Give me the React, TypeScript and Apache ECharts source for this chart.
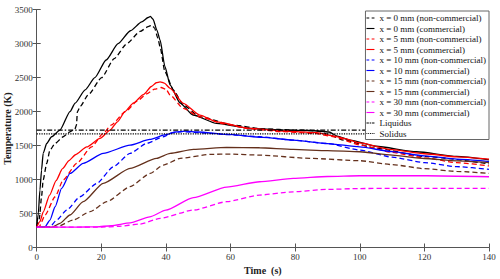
import React, { useEffect, useRef } from "react";
import * as echarts from "echarts";

const FONT = "Liberation Serif, Times New Roman, serif";

const names = [
  "x = 0 mm (non-commercial)",
  "x = 0 mm (commercial)",
  "x = 5 mm (non-commercial)",
  "x = 5 mm (commercial)",
  "x = 10 mm (non-commercial)",
  "x = 10 mm (commercial)",
  "x = 15 mm (non-commercial)",
  "x = 15 mm (commercial)",
  "x = 30 mm (non-commercial)",
  "x = 30 mm (commercial)",
  "Liquidus",
  "Solidus",
];

const x0Non = [[0,300],[0.8,420],[1.5,747],[2,993],[3.1,1238],[4.1,1434],[5.7,1532],[8.2,1630],[10.3,1703],[11.8,1740],[12.3,1800],[12.6,2000],[13.5,2080],[16,2250],[20.1,2500],[24,2780],[27.9,3000],[32,3180],[34.5,3250],[35.6,3272],[36.5,3230],[37.5,3080],[38.2,2950],[39.7,2585],[42.3,2316],[45.4,2096],[50.5,1924],[60.9,1801],[70,1745],[80,1728],[87,1715],[90,1670],[95,1581],[105,1460],[120,1340],[140,1230]];
const x0Com = [[0,300],[0.5,503],[1,845],[1.5,1140],[2,1385],[3.1,1532],[4.6,1630],[7.2,1728],[10.3,2000],[11.9,2125],[15,2320],[18,2500],[21.5,2760],[25.2,3000],[29,3190],[32.5,3320],[34.5,3385],[35.2,3400],[36,3360],[37.2,3200],[38.2,3050],[39.7,2660],[41.3,2390],[44.4,2125],[48.4,1950],[55.7,1826],[66,1753],[76,1728],[85,1722],[90.5,1700],[93,1640],[97,1580],[105,1490],[117.6,1409],[130,1340],[140,1290]];
const x5Non = [[0,300],[0.8,310],[2.6,478],[5.7,747],[8.2,993],[12.4,1238],[17,1482],[20.6,1679],[23,1800],[27.5,2000],[31,2150],[34,2260],[36.5,2330],[38.5,2355],[40,2330],[41.3,2243],[45.4,2047],[50.5,1924],[58,1820],[66,1745],[76,1705],[86,1680],[92,1630],[100,1510],[110,1400],[120,1320],[130,1250],[140,1200]];
const x5Com = [[0,300],[1,380],[2,520],[4,770],[6,985],[8,1160],[10,1280],[12,1365],[15.5,1480],[19.6,1606],[22.7,1728],[25,1850],[27.3,2000],[30,2130],[33,2250],[35.5,2370],[37,2425],[38.2,2438],[39.5,2420],[41.3,2341],[45.4,2121],[50.5,1949],[55.7,1850],[66,1753],[76,1715],[86.7,1690],[92,1640],[95,1606],[100,1540],[110,1440],[120,1380],[130,1335],[140,1300]];
const x10Non = [[0,300],[4.1,305],[6.2,404],[9.3,551],[13.4,747],[18.6,944],[23.7,1188],[28.9,1385],[34,1532],[39.2,1630],[42,1690],[45,1705],[50,1690],[60,1660],[69,1630],[79.4,1580],[89.8,1532],[100,1434],[110,1330],[120,1250],[130,1190],[140,1150]];
const x10Com = [[0,300],[2.6,305],[4.1,404],[5.7,600],[7.7,870],[10.3,1090],[14.4,1238],[20.6,1385],[28.9,1507],[35,1590],[40,1660],[43,1700],[46,1712],[50,1700],[58.8,1664],[70,1620],[79.4,1581],[90,1530],[100,1482],[110,1410],[120,1350],[130,1300],[140,1265]];
const x15Non = [[0,300],[6,300],[11.3,404],[16.5,527],[21.7,674],[28.9,895],[35.1,1090],[39.2,1213],[44.4,1312],[53.7,1371],[60,1375],[69,1360],[84.6,1312],[100,1277],[110,1220],[120,1160],[130,1120],[140,1091]];
const x15Com = [[0,300],[4.8,300],[7.2,356],[10.3,478],[14.4,674],[20.6,944],[28.9,1164],[37.1,1312],[41.3,1385],[48.5,1444],[58.8,1473],[69,1468],[79.4,1444],[90,1425],[100,1409],[110,1360],[120,1310],[130,1275],[140,1250]];
const x30Non = [[0,300],[20,300],[25,310],[32,345],[38.2,429],[48.5,551],[58.8,674],[69,772],[79.4,820],[89.8,855],[100,868],[110.4,870],[140,870]];
const x30Com = [[0,300],[10,300],[15,302],[18.6,305],[23,320],[28.9,362],[35,450],[40,550],[48.5,735],[58.8,890],[69,968],[79.4,1017],[90,1045],[100,1056],[120.7,1056],[140,1041]];
const liquidus = [[0,1728],[140,1728]];
const solidus = [[0,1672],[140,1672]];

const xTicks = { min: 0, max: 140, interval: 20 };
const yTicks = { min: 0, max: 3500, interval: 500 };

const BLACK = "#000000";
const RED = "#ff0000";
const BLUE = "#0000ff";
const BROWN = "#64301c";
const MAGENTA = "#ff00ff";

const ICON_SOLID = "path://M0,0h10v1.4h-10z";
const ICON_DASH = "path://M0,0h3.5v1.4h-3.5zM6.5,0h3.5v1.4h-3.5z";
const ICON_DASHDOT = "path://M0,0h3v1.2h-3zM4,0h2v1.2h-2zM7,0h3v1.2h-3z";
const ICON_DOT = "path://M0,0h1v1h-1zM2,0h1v1h-1zM4,0h1v1h-1zM6,0h1v1h-1zM8,0h1v1h-1z";

export default function App() {
  const ref = useRef<HTMLDivElement>(null);
  useEffect(() => {
    const chart = echarts.init(ref.current!, null, { renderer: "svg" });
    const mk = (name: string, data: number[][], color: string, type: any, width = 1.3) => ({
      name,
      type: "line",
      data,
      showSymbol: false,
      symbol: "none",
      smooth: 0.2,
      smoothMonotone: "x",
      lineStyle: { color, width, type },
      itemStyle: { color },
    });
    const dash = [5, 3];
    const axisCommon = {
      axisLine: { show: true, lineStyle: { color: "#555", width: 1 } },
      axisTick: { show: true, inside: true, length: 4, lineStyle: { color: "#555" } },
      splitLine: { show: false },
    };
    const fmt = (v: number) => String(v);
    const icons = [ICON_DASH, ICON_SOLID, ICON_DASH, ICON_SOLID, ICON_DASH, ICON_SOLID, ICON_DASH, ICON_SOLID, ICON_DASH, ICON_SOLID, ICON_DASHDOT, ICON_DOT];
    chart.setOption({
      animation: false,
      backgroundColor: "#fff",
      grid: { left: 36.7, right: 11, top: 9.7, bottom: 31.5, outerBoundsMode: "none", containLabel: false },
      xAxis: [
        {
          type: "value", ...xTicks, position: "bottom", ...axisCommon,
          axisLabel: { fontSize: 9, color: "#333", fontFamily: FONT, margin: 5, formatter: fmt },
          name: "Time  (s)", nameLocation: "middle", nameGap: 18, nameMoveOverlap: false,
          nameTextStyle: { fontSize: 10, fontWeight: "bold", fontFamily: FONT, color: "#222" },
        },
        { type: "value", ...xTicks, position: "top", ...axisCommon, axisLabel: { show: false } },
      ],
      yAxis: [
        {
          type: "value", ...yTicks, position: "left", ...axisCommon,
          axisLabel: { fontSize: 9, color: "#333", fontFamily: FONT, margin: 4, formatter: fmt },
          name: "Temperature (K)", nameLocation: "middle", nameGap: 24, nameMoveOverlap: false,
          nameTextStyle: { fontSize: 10, fontWeight: "bold", fontFamily: FONT, color: "#222" },
        },
        { type: "value", ...yTicks, position: "right", ...axisCommon, axisLabel: { show: false } },
      ],
      legend: {
        orient: "vertical",
        right: 11,
        top: 11,
        backgroundColor: "#fff",
        borderColor: "#666",
        borderWidth: 1,
        borderRadius: 0,
        padding: [2, 3, 1, 1],
        itemWidth: 8,
        itemHeight: 1.2,
        itemGap: 0.5,
        data: names.map((n, i) => ({ name: n, icon: icons[i] })),
        textStyle: { fontSize: 9, fontFamily: FONT, color: "#111", lineHeight: 10 },
      },
      series: [
        mk(names[0], x0Non, BLACK, dash),
        mk(names[1], x0Com, BLACK, "solid"),
        mk(names[2], x5Non, RED, dash),
        mk(names[3], x5Com, RED, "solid"),
        mk(names[4], x10Non, BLUE, dash),
        mk(names[5], x10Com, BLUE, "solid"),
        mk(names[6], x15Non, BROWN, dash),
        mk(names[7], x15Com, BROWN, "solid"),
        mk(names[8], x30Non, MAGENTA, dash),
        mk(names[9], x30Com, MAGENTA, "solid"),
        { ...mk(names[10], liquidus, BLACK, [5, 2, 1.5, 2], 1.1), smooth: false },
        { ...mk(names[11], solidus, BLACK, [1.2, 1.2], 1.1), smooth: false },
      ],
    });
    return () => chart.dispose();
  }, []);
  return (
    <div
      ref={ref}
      style={{ position: "fixed", left: 0, top: 0, width: 500, height: 279, background: "#fff" }}
    />
  );
}
